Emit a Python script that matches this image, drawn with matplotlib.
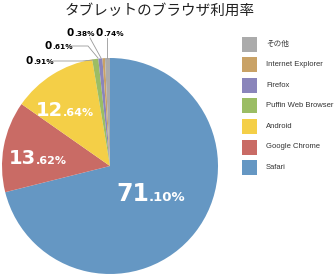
import matplotlib.pyplot as plt
from matplotlib.patches import Rectangle

plt.rcParams['font.family'] = ['Noto Sans CJK JP', 'DejaVu Sans']

# Data
browsers = ['Safari', 'Google Chrome', 'Android', 'Puffin Web Browser',
            'Firefox', 'Internet Explorer', 'その他']
shares = [71.10, 13.62, 12.64, 0.91, 0.61, 0.38, 0.74]
colors = ['#6597C3', '#C96B65', '#F4CF47', '#9BBD64',
          '#8A85BB', '#C9A266', '#ABABAB']

W, H = 335, 276
fig = plt.figure(figsize=(W / 100, H / 100), dpi=100)

# pie axes: centre (110,166) px, radius 108 px
cx, cy, r = 110, 166, 108
ax = fig.add_axes([(cx - r) / W, (H - cy - r) / H, 2 * r / W, 2 * r / H])
wedges, _ = ax.pie(shares, colors=colors, startangle=90, counterclock=False,
                   radius=1, wedgeprops=dict(linewidth=0))
ax.set_xlim(-1, 1)
ax.set_ylim(-1, 1)
ax.set_aspect('equal')


def px(x, y):
    return (x - cx) / r, (cy - y) / r


def split_label(value, x, y, big, small, color):
    whole, dec = f"{value:.2f}".split('.')
    xd, yd = px(x, y)
    ax.text(xd, yd, whole, ha='right', va='baseline', fontsize=big,
            color=color, fontweight='bold', family='DejaVu Sans')
    ax.text(xd, yd, '.' + dec + '%', ha='left', va='baseline', fontsize=small,
            color=color, fontweight='bold', family='DejaVu Sans')


# big labels inside slices
split_label(shares[0], 149, 201, 17, 9.5, 'white')
split_label(shares[1], 36, 164, 14, 8, 'white')
split_label(shares[2], 63, 116, 14, 8, 'white')

# small labels outside with leader lines
split_label(shares[3], 33, 64, 7.5, 5.3, 'black')
split_label(shares[4], 52, 49, 7.5, 5.3, 'black')
split_label(shares[5], 74, 36, 7.5, 5.3, 'black')
split_label(shares[6], 103, 36, 7.5, 5.3, 'black')

leaders = [
    [(53, 61), (82, 61), (93, 60)],
    [(70, 46), (88, 46), (98, 58)],
    [(90, 38), (101, 58)],
    [(107, 38), (107, 58)],
]
for pts in leaders:
    xs = [px(*p)[0] for p in pts]
    ys = [px(*p)[1] for p in pts]
    ax.plot(xs, ys, color='#999999', lw=0.6, clip_on=False)

# title
fig.text(160 / W, 1 - 11 / H, 'タブレットのブラウザ利用率', ha='center', va='center',
         fontsize=10.5, color='#222222')

# legend (top to bottom: reversed order)
for i, (name, col) in enumerate(zip(browsers[::-1], colors[::-1])):
    ytop = 37 + i * 20.5
    fig.add_artist(Rectangle((242 / W, 1 - (ytop + 15) / H), 15 / W, 15 / H,
                             transform=fig.transFigure, facecolor=col,
                             edgecolor='none'))
    fig.text(266 / W, 1 - (ytop + 7.5) / H, name, ha='left', va='center',
             fontsize=5.5, color='#333333',
             family=['Liberation Sans', 'Noto Sans CJK JP'])

plt.savefig('out.png', dpi=100)
